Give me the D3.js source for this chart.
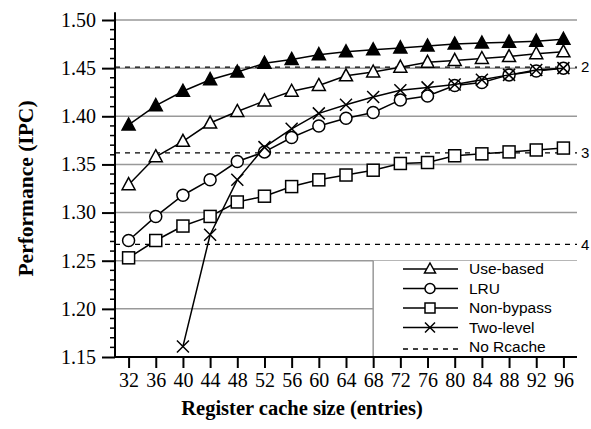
<!DOCTYPE html>
<html>
<head>
<meta charset="utf-8">
<script src="https://cdn.jsdelivr.net/npm/d3@7"></script>
<style>
  body { margin: 0; background: #fff; }
</style>
</head>
<body>
<div id="chart"></div>
<script>
// register cache sizes
const sizes = [32, 36, 40, 44, 48, 52, 56, 60, 64, 68, 72, 76, 80, 84, 88, 92, 96];

// series values (IPC)
const upperBound = [1.391, 1.411, 1.426, 1.438, 1.446, 1.455, 1.459, 1.464, 1.467, 1.469, 1.471, 1.473, 1.475, 1.476, 1.477, 1.478, 1.480];
const useBased   = [1.329, 1.358, 1.374, 1.393, 1.405, 1.416, 1.426, 1.432, 1.442, 1.446, 1.451, 1.456, 1.458, 1.460, 1.462, 1.465, 1.467];
const lru        = [1.271, 1.296, 1.318, 1.334, 1.353, 1.363, 1.378, 1.390, 1.398, 1.404, 1.417, 1.421, 1.432, 1.435, 1.443, 1.447, 1.450];
const nonBypass  = [1.253, 1.271, 1.286, 1.296, 1.311, 1.317, 1.327, 1.334, 1.339, 1.344, 1.351, 1.352, 1.359, 1.361, 1.363, 1.365, 1.367];
const twoLevel   = [null, null, 1.161, 1.277, 1.334, 1.368, 1.387, 1.403, 1.412, 1.420, 1.427, 1.430, 1.433, 1.438, 1.443, 1.448, 1.450];

// "No Rcache" reference lines
const noRcache = [1.451, 1.362, 1.267];
const noRcacheLabels = ["2", "3", "4"];

const yTicks = [1.15, 1.20, 1.25, 1.30, 1.35, 1.40, 1.45, 1.50];
const legendNames = ["Use-based", "LRU", "Non-bypass", "Two-level", "No Rcache"];

const width = 591, height = 429;
const margin = { top: 20, right: 14, bottom: 72, left: 115 };

const svg = d3.select("#chart").append("svg")
    .attr("width", width)
    .attr("height", height);

const x = d3.scalePoint()
    .domain(sizes)
    .range([margin.left, width - margin.right])
    .padding(0.5);

const y = d3.scaleLinear()
    .domain([1.15, 1.50])
    .range([height - margin.bottom, margin.top]);

const x0 = margin.left, x1 = width - margin.right;

// Legend area sits right of size 68, below 1.25
const legendLeft = x(68);

// Gridlines
svg.append("g").selectAll("line")
    .data(yTicks.slice(1))
    .enter().append("line")
    .attr("x1", x0).attr("x2", x1)
    .attr("y1", d => y(d)).attr("y2", d => y(d))
    .attr("stroke", "#999").attr("stroke-width", 1.5);

// Legend background + left border
svg.append("rect")
    .attr("x", legendLeft).attr("y", y(1.25))
    .attr("width", x1 - legendLeft).attr("height", y(1.15) - y(1.25))
    .attr("fill", "#fff");
svg.append("line")
    .attr("x1", legendLeft).attr("x2", legendLeft)
    .attr("y1", y(1.25)).attr("y2", y(1.15))
    .attr("stroke", "#999").attr("stroke-width", 1.5);

// No Rcache dashed lines
svg.append("g").selectAll("line")
    .data(noRcache)
    .enter().append("line")
    .attr("x1", x0).attr("x2", x1)
    .attr("y1", d => y(d)).attr("y2", d => y(d))
    .attr("stroke", "#000").attr("stroke-width", 1.3)
    .attr("stroke-dasharray", "5,5");

svg.append("g").selectAll("text")
    .data(noRcache)
    .enter().append("text")
    .attr("x", x1 + 4)
    .attr("y", d => y(d))
    .attr("dy", "0.35em")
    .attr("font-family", "Liberation Sans, Arial, sans-serif")
    .attr("font-size", "15px")
    .text((d, i) => noRcacheLabels[i]);

// marker drawing
function drawMarker(g, type, cx, cy, s) {
    if (type === "triangle" || type === "filled") {
        g.append("path")
            .attr("d", `M${cx},${cy - s - 1} L${cx + s + 0.5},${cy + s - 1} L${cx - s - 0.5},${cy + s - 1} Z`)
            .attr("fill", type === "filled" ? "#000" : "#fff")
            .attr("stroke", "#000").attr("stroke-width", 1.5);
    } else if (type === "circle") {
        g.append("circle")
            .attr("cx", cx).attr("cy", cy).attr("r", s)
            .attr("fill", "#fff").attr("stroke", "#000").attr("stroke-width", 1.5);
    } else if (type === "square") {
        g.append("rect")
            .attr("x", cx - s).attr("y", cy - s)
            .attr("width", 2 * s).attr("height", 2 * s)
            .attr("fill", "#fff").attr("stroke", "#000").attr("stroke-width", 1.5);
    } else if (type === "cross") {
        g.append("path")
            .attr("d", `M${cx - s},${cy - s} L${cx + s},${cy + s} M${cx - s},${cy + s} L${cx + s},${cy - s}`)
            .attr("fill", "none").attr("stroke", "#000").attr("stroke-width", 1.5);
    }
}

const series = [
    { values: nonBypass, marker: "square" },
    { values: lru, marker: "circle" },
    { values: twoLevel, marker: "cross" },
    { values: useBased, marker: "triangle" },
    { values: upperBound, marker: "filled" }
];

const line = d3.line()
    .defined(d => d.v !== null)
    .x(d => x(d.s))
    .y(d => y(d.v));

series.forEach(se => {
    const pts = sizes.map((s, i) => ({ s: s, v: se.values[i] }));
    const g = svg.append("g");
    g.append("path")
        .datum(pts)
        .attr("d", line)
        .attr("fill", "none")
        .attr("stroke", "#000")
        .attr("stroke-width", 1.5);
    pts.filter(d => d.v !== null).forEach(d => drawMarker(g, se.marker, x(d.s), y(d.v), 6));
});

// X axis
svg.append("g")
    .attr("transform", `translate(0, ${y(1.15)})`)
    .call(d3.axisBottom(x).tickSize(11).tickSizeOuter(0).tickPadding(5))
    .call(g => g.select(".domain").attr("stroke-width", 2).attr("d", `M${x0},0H${x1}`))
    .call(g => g.selectAll(".tick line").attr("stroke-width", 2))
    .call(g => g.selectAll(".tick text")
        .attr("font-family", "Liberation Serif, Times New Roman, serif")
        .attr("font-size", "20px")
        .attr("fill", "#000"));

// Y axis: minor ticks every 0.01
const minor = d3.range(116, 151).map(d => d / 100).filter(d => Math.round(d * 100) % 5 !== 0);
svg.append("g").selectAll("line")
    .data(minor)
    .enter().append("line")
    .attr("x1", x0 - 5).attr("x2", x0)
    .attr("y1", d => y(d)).attr("y2", d => y(d))
    .attr("stroke", "#000").attr("stroke-width", 1.5);

svg.append("g")
    .attr("transform", `translate(${x0}, 0)`)
    .call(d3.axisLeft(y).tickValues(yTicks).tickFormat(d3.format(".2f")).tickSize(13).tickSizeOuter(0).tickPadding(6))
    .call(g => g.select(".domain").attr("stroke-width", 2).attr("d", `M0,${y(1.15)}V${y(1.508)}`))
    .call(g => g.selectAll(".tick line").attr("stroke-width", 2))
    .call(g => g.selectAll(".tick text")
        .attr("font-family", "Liberation Serif, Times New Roman, serif")
        .attr("font-size", "20px")
        .attr("fill", "#000"));

// Axis titles
svg.append("text")
    .attr("x", 302)
    .attr("y", 415)
    .attr("text-anchor", "middle")
    .attr("font-family", "Liberation Serif, Times New Roman, serif")
    .attr("font-weight", "bold")
    .attr("font-size", "20.5px")
    .text("Register cache size (entries)");

svg.append("text")
    .attr("transform", `translate(33, ${(y(1.15) + y(1.50)) / 2}) rotate(-90)`)
    .attr("text-anchor", "middle")
    .attr("font-family", "Liberation Serif, Times New Roman, serif")
    .attr("font-weight", "bold")
    .attr("font-size", "21.5px")
    .text("Performance (IPC)");

// Legend
const legendMarkers = ["triangle", "circle", "square", "cross", "dash"];
const lg = svg.append("g");
legendNames.forEach((name, i) => {
    const ly = 269 + i * 19.5;
    if (legendMarkers[i] === "dash") {
        lg.append("line")
            .attr("x1", 403).attr("x2", 458)
            .attr("y1", ly + 2).attr("y2", ly + 2)
            .attr("stroke", "#000").attr("stroke-width", 1.3)
            .attr("stroke-dasharray", "5,5");
    } else {
        lg.append("line")
            .attr("x1", 403).attr("x2", 458)
            .attr("y1", ly).attr("y2", ly)
            .attr("stroke", "#000").attr("stroke-width", 1.5);
        drawMarker(lg, legendMarkers[i], 430, ly, 5);
    }
    lg.append("text")
        .attr("x", 469)
        .attr("y", ly)
        .attr("dy", "0.35em")
        .attr("font-family", "Liberation Sans, Arial, sans-serif")
        .attr("font-size", "15.5px")
        .text(name);
});
</script>
</body>
</html>
